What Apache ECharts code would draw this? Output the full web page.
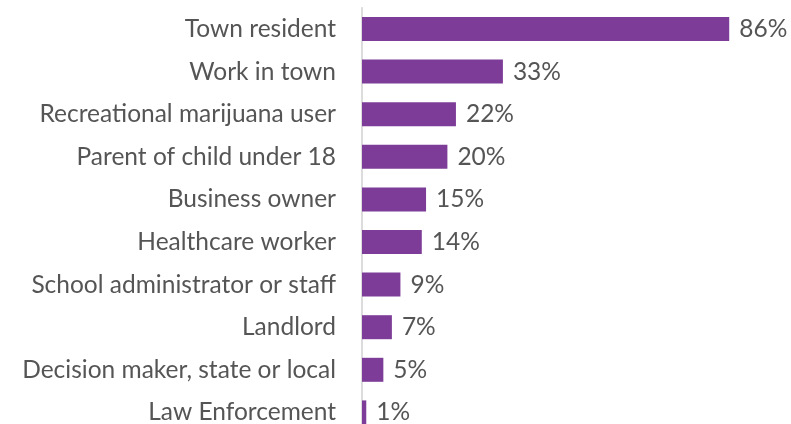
<!DOCTYPE html>
<html><head><meta charset="utf-8">
<script src="https://cdn.jsdelivr.net/npm/echarts@6/dist/echarts.min.js"></script>
<style>html,body{margin:0;padding:0;background:#fff}#c{width:791px;height:424px}</style>
</head><body><div id="c"></div>
<script>
const categories = ["Town resident","Work in town","Recreational marijuana user","Parent of child under 18","Business owner","Healthcare worker","School administrator or staff","Landlord","Decision maker, state or local","Law Enforcement"];
const values = [86,33,22,20,15,14,9,7,5,1];
const chart = echarts.init(document.getElementById('c'));
chart.setOption({
  animation:false,
  grid:{left:362,width:427,top:7.7,height:426,containLabel:false,outerBoundsMode:'none'},
  xAxis:{type:'value',min:0,max:100,show:false},
  yAxis:{type:'category',data:categories,inverse:true,
    axisLine:{show:true,lineStyle:{color:'#d0d0d0',width:1.5}},
    axisTick:{show:false},
    axisLabel:{color:'#555',fontFamily:'Lato',fontSize:24.5,margin:26}},
  series:[{type:'bar',data:values,barWidth:24,
    itemStyle:{color:'#7D3C98'},
    label:{show:true,position:'right',distance:10,formatter:'{c}%',color:'#555',fontFamily:'Lato',fontSize:24.5}}]
});
</script></body></html>
